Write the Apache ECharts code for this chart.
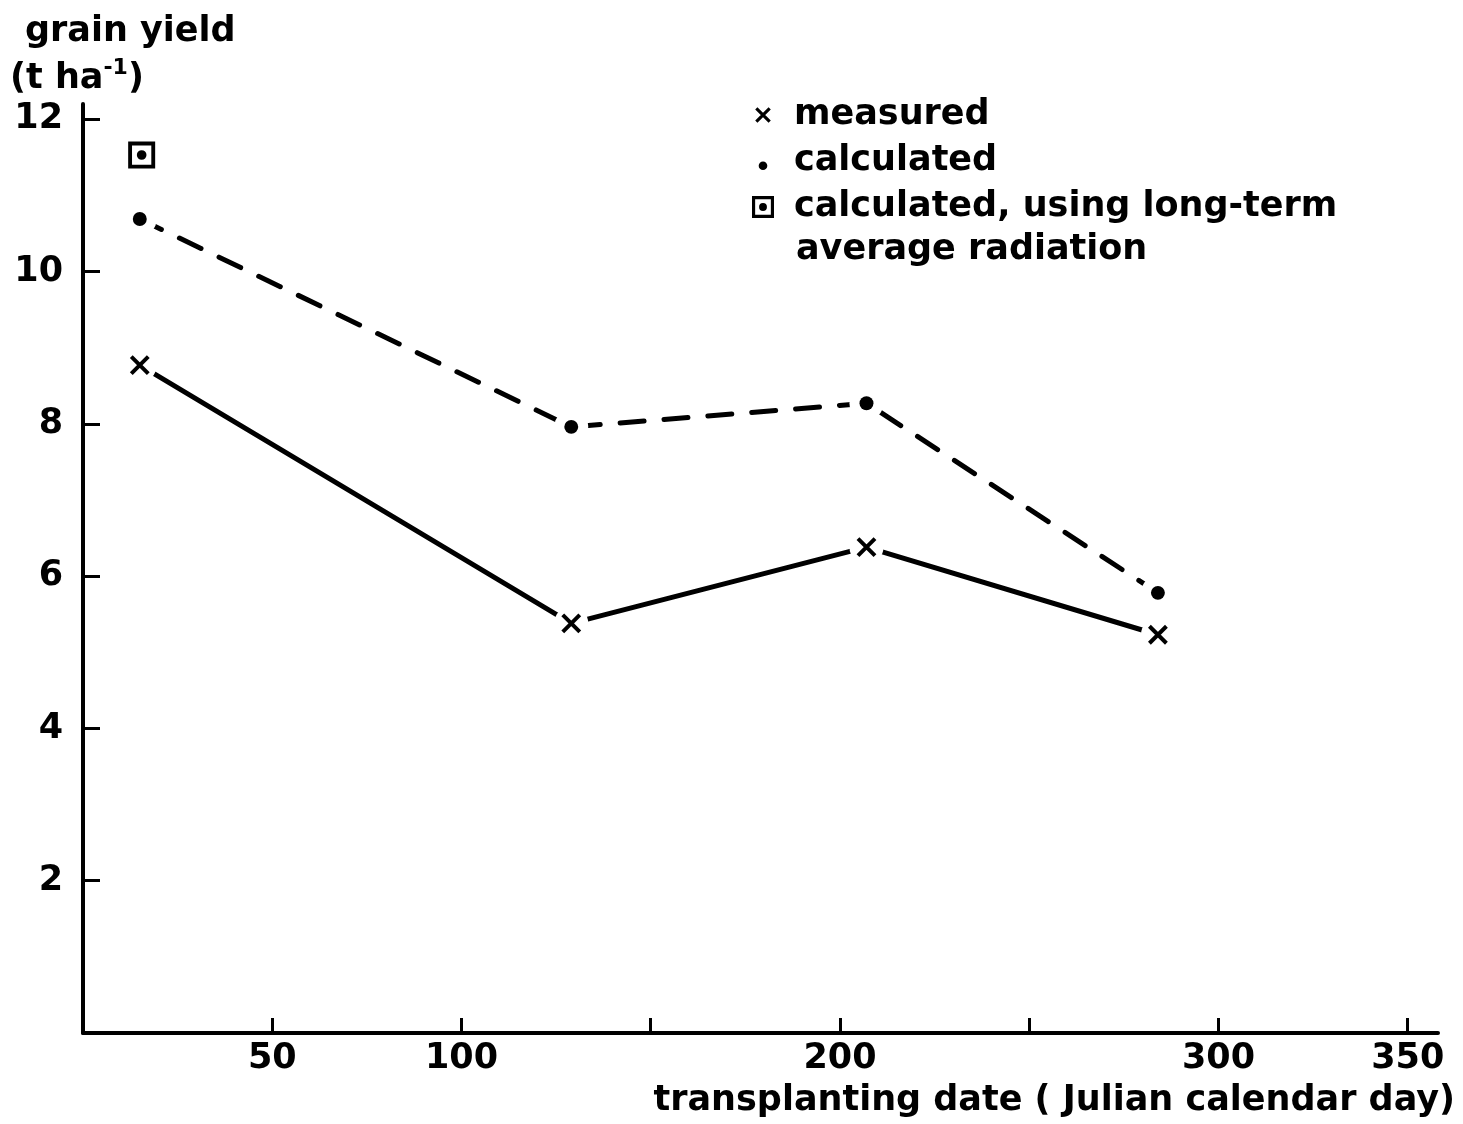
<!DOCTYPE html>
<html>
<head>
<meta charset="utf-8">
<title>grain yield vs transplanting date</title>
<script src="https://cdn.jsdelivr.net/npm/echarts@6/dist/echarts.min.js"></script>
<style>
html,body{margin:0;padding:0;background:#fff;}
#chart{width:1463px;height:1124px;}
</style>
</head>
<body>
<div id="chart"></div>
<script>
// transplanting date (Julian day) of the four plantings
var days = [15, 129, 207, 284];
// grain yield (t/ha)
var measured = [8.77, 5.38, 6.38, 5.23];
var calculated = [10.69, 7.96, 8.27, 5.78];
// one extra point, calculated with long-term average radiation
var longTermDay = [15.5];
var longTermYield = [11.53];
// axis ticks / labels
var xTicks = [50, 100, 150, 200, 250, 300, 350];
var xLabels = [50, 100, 200, 300, 350];
var yTicks = [2, 4, 6, 8, 10, 12];

var FONT = '"DejaVu Sans", sans-serif';
var FS = 35;
var BIG = 'bold ' + FS + 'px ' + FONT;
var longTermName = 'calculated, using long-term average radiation';

// symbols drawn in a 28x28 box (the first two M's only set the box)
var crossSym = 'path://M0,0M28,28M6.91,4.09L23.91,21.09L21.09,23.91L4.09,6.91Z' +
    'M23.91,6.91L6.91,23.91L4.09,21.09L21.09,4.09Z';
var dotSym = 'path://M0,0M28,28M14,7.5A6.5,6.5 0 1,1 14,20.5A6.5,6.5 0 1,1 14,7.5Z';
var dotLegend = 'path://M0,0M28,28M14,14.5A5.5,5.5 0 1,1 14,25.5A5.5,5.5 0 1,1 14,14.5Z';
var boxSym = 'path://M0,0H28V28H0Z M4,4V24H24V4Z M14,9A5,5 0 1,0 14,19A5,5 0 1,0 14,9Z';

function pairs(xs, ys) {
    var res = [];
    for (var i = 0; i < xs.length; i++) {
        res.push([xs[i], ys[i]]);
    }
    return res;
}

var myChart = echarts.init(document.getElementById('chart'));
var option = {
    backgroundColor: '#fff',
    animation: false,
    textStyle: {fontFamily: FONT, color: '#000'},
    grid: {left: 83, right: 25, top: 104, bottom: 91, containLabel: false},
    legend: {
        orient: 'vertical',
        left: 747,
        top: 87,
        itemGap: 0,
        itemWidth: 36,
        itemHeight: 22,
        symbolKeepAspect: true,
        selectedMode: false,
        textStyle: {fontFamily: FONT, fontWeight: 'bold', fontSize: FS, color: '#000', lineHeight: 46, padding: [0, 0, 0, 8]},
        formatter: function (name) {
            return name === longTermName ? 'calculated, using long-term' : name;
        },
        data: [
            {name: 'measured'},
            {name: 'calculated', icon: dotLegend},
            {name: longTermName}
        ]
    },
    xAxis: {
        type: 'value',
        min: 0,
        max: 358,
        splitLine: {show: false},
        axisLine: {lineStyle: {color: '#000', width: 4}},
        axisTick: {inside: true, length: 15, lineStyle: {color: '#000', width: 3}, customValues: xTicks},
        axisLabel: {customValues: xLabels, margin: 8, fontSize: FS, fontWeight: 'bold', fontFamily: FONT, color: '#000'}
    },
    yAxis: {
        type: 'value',
        min: 0,
        max: 12.2,
        splitLine: {show: false},
        axisLine: {show: true, lineStyle: {color: '#000', width: 4}},
        axisTick: {show: true, inside: true, length: 17, lineStyle: {color: '#000', width: 3}, customValues: yTicks},
        axisLabel: {customValues: yTicks, margin: 20, fontSize: FS, fontWeight: 'bold', fontFamily: FONT, color: '#000'}
    },
    graphic: [
        {type: 'text', left: 25, top: 14, style: {text: 'grain yield', font: BIG, fill: '#000'}},
        {type: 'text', left: 10, top: 57, style: {
            text: '{n|(t ha}{s|-1}{n|)}',
            rich: {
                n: {fontSize: FS, fontWeight: 'bold', fontFamily: FONT, lineHeight: 44, fill: '#000'},
                s: {fontSize: 22, fontWeight: 'bold', fontFamily: FONT, verticalAlign: 'top', lineHeight: 22, fill: '#000'}
            }
        }},
        {type: 'text', left: 796, top: 232, style: {text: 'average radiation', font: BIG, fill: '#000'}},
        {type: 'text', right: 8, top: 1083, style: {text: 'transplanting date ( Julian calendar day)', font: BIG, fill: '#000'}}
    ],
    series: [
        {
            name: 'measured line',
            type: 'line',
            z: 2,
            data: pairs(days, measured),
            showSymbol: false,
            silent: true,
            lineStyle: {color: '#000', width: 5, cap: 'round'}
        },
        {
            name: 'calculated line',
            type: 'line',
            z: 2,
            data: pairs(days, calculated),
            showSymbol: false,
            silent: true,
            lineStyle: {color: '#000', width: 5, type: [24, 20], cap: 'round'}
        },
        {
            // white halo so the lines stop short of the markers
            name: 'halo',
            type: 'scatter',
            z: 5,
            data: pairs(days, measured).concat(pairs(days, calculated)),
            symbol: 'circle',
            symbolSize: 34,
            silent: true,
            itemStyle: {color: '#fff', opacity: 1}
        },
        {
            name: 'measured',
            type: 'scatter',
            z: 6,
            data: pairs(days, measured),
            symbol: crossSym,
            symbolSize: 28,
            itemStyle: {color: '#000', opacity: 1}
        },
        {
            name: 'calculated',
            type: 'scatter',
            z: 6,
            data: pairs(days, calculated),
            symbol: dotSym,
            symbolSize: 30,
            itemStyle: {color: '#000', opacity: 1}
        },
        {
            name: longTermName,
            type: 'scatter',
            z: 6,
            data: pairs(longTermDay, longTermYield),
            symbol: boxSym,
            symbolSize: 27,
            itemStyle: {color: '#000', opacity: 1}
        }
    ]
};
myChart.setOption(option);
</script>
</body>
</html>
